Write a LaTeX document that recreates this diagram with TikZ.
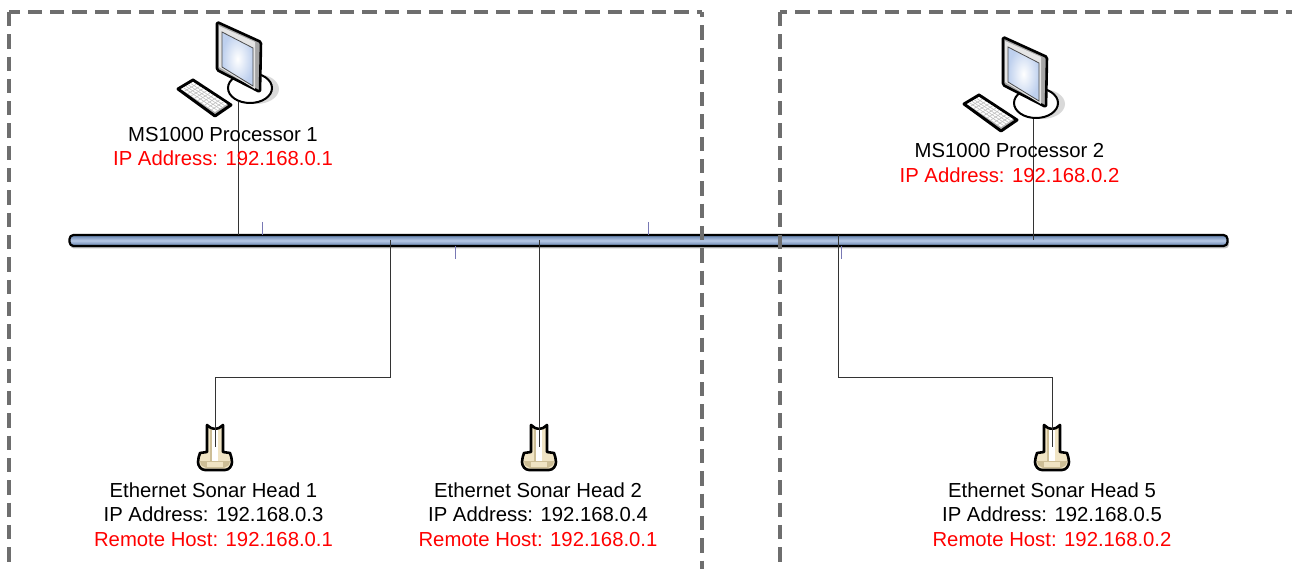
\documentclass[tikz,border=0pt]{standalone}
\usepackage{fontspec}
\setmainfont{Liberation Sans}
\usetikzlibrary{calc}
\definecolor{busblue}{RGB}{184,202,230}
\definecolor{busdark}{RGB}{96,126,170}
\definecolor{zonegray}{RGB}{110,110,110}
\definecolor{headcream}{RGB}{240,228,196}
\definecolor{headdark}{RGB}{205,190,150}
\definecolor{tickblue}{RGB}{120,120,180}
\definecolor{screenblue}{RGB}{190,208,238}
\tikzset{
  label/.style={font=\fontsize{20.3}{24.5}\selectfont, align=center, inner sep=0pt},
  zone/.style={line width=4pt, zonegray, dash pattern=on 14.3pt off 8pt},
  wire/.style={line width=0.9pt, black!80},
  tick/.style={line width=0.8pt, tickblue},
  pics/computer/.style={code={
    % shadow and base
    \fill[black!15] (18,-13) ellipse (23 and 15);
    \draw[line width=2pt, fill=white] (12,-14) ellipse (22 and 15);
    % keyboard
    \draw[line width=3pt, fill=black!30, line join=round] (-60,-13) -- (-45,-22) -- (-7,3) -- (-23,14) -- cycle;
    \fill[white] (-57,-13) -- (-45,-20) -- (-11,2) -- (-23,10) -- cycle;
    \foreach \t in {0.2,0.4,0.6,0.8} {
      \draw[black!25, line width=0.6pt] ($(-57,-13)!\t!(-45,-20)$) -- ($(-23,10)!\t!(-11,2)$);
    }
    \foreach \t in {0.1,0.2,...,0.9} {
      \draw[black!25, line width=0.6pt] ($(-57,-13)!\t!(-23,10)$) -- ($(-45,-20)!\t!(-11,2)$);
    }
    % monitor
    \draw[line width=2.6pt, fill=black!35, line join=round, rounded corners=1.5pt] (-21,-80) -- (23,-60) -- (22,-10) -- (-21,-32) -- cycle;
    \fill[black!10] (-19,-76) -- (17,-60) -- (17,-13) -- (-19,-35) -- cycle;
    \draw[line width=0.8pt, black!70, inner color=white, outer color=screenblue] (-16,-70) -- (15,-54) -- (15,-16) -- (-16,-35) -- cycle;
  }},
  pics/sonarhead/.style={code={
    \draw[line width=2.6pt, fill=headcream, line join=round]
      (-8,-22) -- (-4,-19) -- (0,-18) -- (4,-19) -- (8,-22) -- (8,5) -- (15,6)
      .. controls (16,9) and (17,12) .. (17,15) .. controls (17,19) and (14,23) .. (10,23) -- (-10,23)
      .. controls (-14,23) and (-17,19) .. (-17,15) .. controls (-17,12) and (-16,9) .. (-15,6) -- (-8,5) -- cycle;
    \fill[white] (-3,-17) rectangle (3,14);
    \fill[headdark] (-5,-17) rectangle (-3,14);
    \fill[headdark] (-15,14) -- (15,14) -- (14,18) -- (9,21) -- (-9,21) -- (-14,18) -- cycle;
    \fill[headcream] (-8,15) rectangle (8,20);
  }},
}
\begin{document}
\begin{tikzpicture}[x=1pt,y=-1pt]
\useasboundingbox (0,0) rectangle (1292,569);

% ===== Bus =====
\fill[black!25, rounded corners=4pt] (70,238) rectangle (1229,248.5);
\node[draw=black, line width=2.2pt, rounded corners=4pt, minimum width=1158pt, minimum height=11pt, inner sep=0pt,
  top color=busdark, bottom color=busdark, middle color=busblue] (bus) at (648.5,240.5) {};

% ===== Zones =====
\draw[zone, dash phase=9pt] (702,12) -- (702,569);
\draw[zone, dash phase=9pt] (702,12) -- (9,12);
\draw[zone] (9,12) -- (9,569);
\draw[zone] (780,12) -- (780,569);
\draw[zone, dash phase=7pt] (780,12) -- (1292,12);

% ===== Computers and heads =====
\pic (procA) at (238,102) {computer};
\pic (procB) at (1024,117) {computer};
\pic (headA) at (215,447) {sonarhead};
\pic (headB) at (539,447) {sonarhead};
\pic (headC) at (1052,447) {sonarhead};

\coordinate (portA) at (238,102);
\coordinate (portB) at (1033,119);
\coordinate (endA) at (215,447);
\coordinate (endB) at (539,447);
\coordinate (endC) at (1052,447);
\coordinate (tapA) at (238,235);
\coordinate (tapB) at (1033,240);
\coordinate (tapC) at (390,240);
\coordinate (tapD) at (539,240);
\coordinate (tapE) at (838,235);

\draw[wire] (portA) -- (tapA);
\draw[wire] (portB) -- (tapB);
\draw[wire] (tapC) -- (390,377) -| (endA);
\draw[wire] (tapD) -- (endB);
\draw[wire] (tapE) -- (838,377) -| (endC);

% small marks on the bus
\foreach \x in {262,648} {
  \draw[tick] (\x,222) -- (\x,235);
}
\foreach \x in {455,841} {
  \draw[tick] (\x,246) -- (\x,259);
}

% ===== Labels =====
\node[label] (nameA) at (223,134.5) {MS1000 Processor 1};
\node[label, red] (addrA) at (223,158.5) {IP Address: 192.168.0.1};
\node[label] (nameB) at (1009.5,150.5) {MS1000 Processor 2};
\node[label, red] (addrB) at (1009.5,175) {IP Address: 192.168.0.2};

\node[label, anchor=north] (textA) at (213.5,482.5) {Ethernet Sonar Head 1\\IP Address: 192.168.0.3\\\textcolor{red}{Remote Host: 192.168.0.1}};
\node[label, anchor=north] (textB) at (538,482.5) {Ethernet Sonar Head 2\\IP Address: 192.168.0.4\\\textcolor{red}{Remote Host: 192.168.0.1}};
\node[label, anchor=north] (textC) at (1052,482.5) {Ethernet Sonar Head 5\\IP Address: 192.168.0.5\\\textcolor{red}{Remote Host: 192.168.0.2}};

\end{tikzpicture}
\end{document}
